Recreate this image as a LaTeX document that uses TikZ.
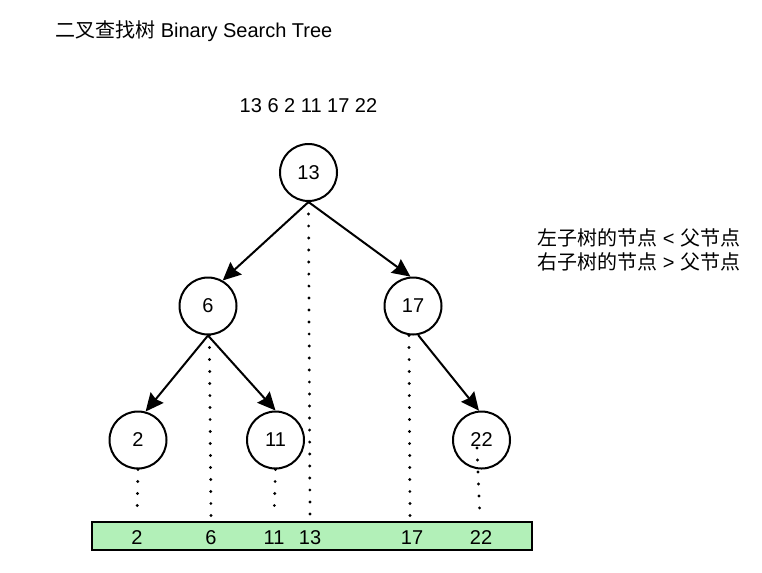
\documentclass[tikz,border=0pt]{standalone}
\usepackage{fontspec}
\setmainfont{Liberation Sans}
\newfontfamily\cjk{Noto Sans CJK SC}
\usetikzlibrary{arrows.meta}

\definecolor{barfill}{RGB}{178,240,184}

\tikzset{
  treenode/.style={circle, draw, line width=1.5pt, minimum size=42.75pt, inner sep=0pt,
    font=\fontsize{15}{18}\selectfont},
  edge/.style={line width=1.5pt, -{Stealth[length=13.5pt, width=12.5pt, inset=1.5pt]}},
  dotline/.style={line width=2.4pt, line cap=round, dash pattern=on 0pt off 9pt},
  numlabel/.style={font=\fontsize{15}{18}\selectfont, inner sep=0pt}
}

\begin{document}
\begin{tikzpicture}[x=0.75pt, y=-0.75pt]
  \useasboundingbox (0, 0) rectangle (762, 572);

  % title and input sequence
  \node[anchor=west, inner sep=0pt, font=\fontsize{15}{18}\selectfont] (title) at (55, 31)
    {{\cjk 二叉查找树} Binary Search Tree};
  \node[numlabel] (seq) at (308.5, 106) {13 6 2 11 17 22};

  % rule text
  \node[anchor=west, align=left, inner sep=0pt, font=\fontsize{15}{18}\selectfont] (rule) at (537, 250)
    {{\cjk 左子树的节点} < {\cjk 父节点}\\{\cjk 右子树的节点} > {\cjk 父节点}};

  % tree
  \node[treenode] (n13) at (308.5, 172.5) {13};
  \node[treenode] (n6) at (208, 306) {6};
  \node[treenode] (n17) at (413, 306) {17};
  \node[treenode] (n2) at (138, 440) {2};
  \node[treenode] (n11) at (275.5, 440) {11};
  \node[treenode] (n22) at (481.5, 440) {22};

  \draw[edge] (n13.south) -- (n6.60);
  \draw[edge] (n13.south) -- (n17.95);
  \draw[edge] (n6.south) -- (n2.75);
  \draw[edge] (n6.south) -- (n11.north);
  \draw[edge] (n17.-80) -- (n22.95);

  % sorted bar
  \node[draw, line width=1.5pt, fill=barfill, minimum width=330pt, minimum height=21pt,
    inner sep=0pt] (bar) at (312, 536) {};
  \node[numlabel] (b2) at (137, 538) {2};
  \node[numlabel] (b6) at (211, 538) {6};
  \node[numlabel] (b11) at (274, 538) {11};
  \node[numlabel] (b13) at (310, 538) {13};
  \node[numlabel] (b17) at (412, 538) {17};
  \node[numlabel] (b22) at (481, 538) {22};

  \coordinate (d2) at (137, 517);
  \coordinate (d6) at (211, 516);
  \coordinate (d11) at (274, 517);
  \coordinate (d13) at (310, 516);
  \coordinate (d17) at (410, 517);
  \coordinate (d22) at (480, 518);
  \coordinate (s22) at (477, 448);

  \draw[dotline] (n2.south) -- (d2);
  \draw[dotline] ([xshift=1pt]n6.south) -- (d6);
  \draw[dotline] (n11.south) -- (d11);
  \draw[dotline] (n13.south) -- (d13);
  \draw[dotline] ([xshift=-3pt]n17.south) -- (d17);
  \draw[dotline] (s22) -- (d22);
\end{tikzpicture}
\end{document}
